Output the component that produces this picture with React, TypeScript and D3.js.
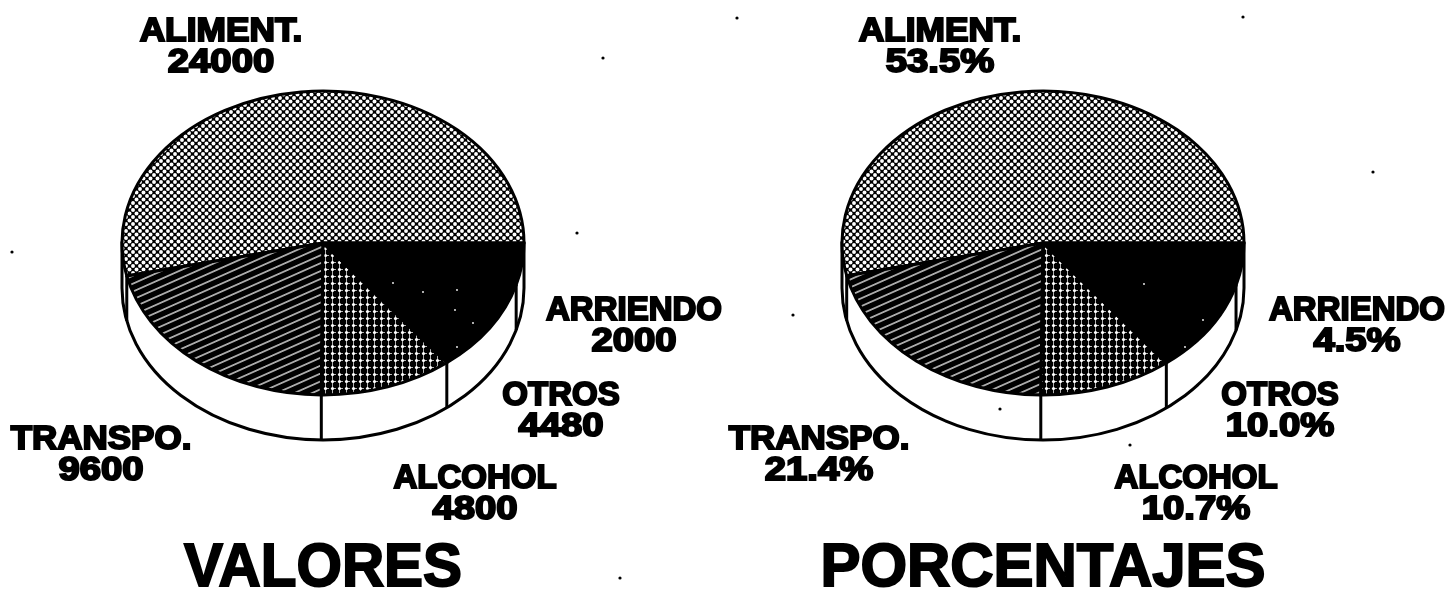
import React from "react";
import * as d3 from "d3";

const categories = ["ALIMENT.", "TRANSPO.", "ALCOHOL", "OTROS", "ARRIENDO"];
const valores = [24000, 9600, 4800, 4480, 2000];
const porcentajes = [53.5, 21.4, 10.7, 10.0, 4.5];
const valorLabels = ["24000", "9600", "4800", "4480", "2000"];
const porcentajeLabels = ["53.5%", "21.4%", "10.7%", "10.0%", "4.5%"];

const patterns = ["url(#dots)", "url(#hatch)", "url(#grid)", "url(#solid)", "url(#solid)"];

// label anchors relative to pie centre: [dx, y of first line]
const leftAnchors = [[-102, 41], [-222, 449], [152, 488], [238, 405], [311, 320]];
const rightAnchors = [[-103, 41], [-224, 449], [153, 488], [237, 405], [314, 320]];
// the names are a little wider in the scan than in Liberation Sans
const nameStretch = [1.07, 1.06, 1, 1, 1];

// dirt from the scan
const specks = [
  [737, 18], [603, 58], [1243, 17], [577, 233], [793, 315], [1373, 172],
  [1130, 445], [1000, 409], [620, 578], [12, 252],
];
const whiteSpecks = [
  [457, 290], [455, 310], [473, 323], [457, 347], [423, 292], [393, 283],
  [1144, 284], [1203, 320], [1185, 347],
];

const W = 1448;
const H = 593;
const RX = 201;
const RY = 152;
const CY = 243;
const DEPTH = 45;
const LINE = 31;
const VALUE_STRETCH = 1.16;

const pie = d3
  .pie<number>()
  .sort(null)
  .startAngle(Math.PI / 2)
  .endAngle(Math.PI / 2 - 2 * Math.PI);

const rim = (cx: number, a: number, dy = 0): [number, number] => [
  cx + RX * Math.sin(a),
  CY + dy - RY * Math.cos(a),
];

const slicePath = (cx: number, a0: number, a1: number) => {
  const [x0, y0] = rim(cx, a0);
  const [x1, y1] = rim(cx, a1);
  const large = Math.abs(a1 - a0) > Math.PI ? 1 : 0;
  return `M${cx},${CY}L${x0},${y0}A${RX},${RY} 0 ${large} 0 ${x1},${y1}Z`;
};

const Pie3D = ({ cx, values, labels, anchors, title, titleW }: any) => {
  const arcs = pie(values);
  const wall =
    `M${cx - RX},${CY}L${cx - RX},${CY + DEPTH}` +
    `A${RX},${RY} 0 0 0 ${cx + RX},${CY + DEPTH}L${cx + RX},${CY}Z`;
  return (
    <g>
      <path d={wall} fill="#fff" stroke="#000" strokeWidth={3} />
      {arcs.map((d, i) => {
        const [x, y] = rim(cx, d.endAngle);
        // only edges on the front half show on the wall
        if (y <= CY + 1) return null;
        return <line key={i} x1={x} y1={y} x2={x} y2={y + DEPTH} stroke="#000" strokeWidth={3} />;
      })}
      {arcs.map((d, i) => (
        <path
          key={i}
          d={slicePath(cx, d.startAngle, d.endAngle)}
          fill={patterns[i]}
          stroke="#000"
          strokeWidth={3}
          strokeLinejoin="round"
        />
      ))}
      <g
        fontFamily="'Liberation Sans', Arial, sans-serif"
        fontWeight="bold"
        fontSize={33}
        fill="#000"
        stroke="#000"
        strokeWidth={2}
        textAnchor="middle"
      >
        {categories.map((c, i) => (
          <g key={c}>
            <text transform={`translate(${cx + anchors[i][0]},${anchors[i][1]}) scale(${nameStretch[i]},1)`}>
              {c}
            </text>
            <text transform={`translate(${cx + anchors[i][0]},${anchors[i][1] + LINE}) scale(${VALUE_STRETCH},1)`}>
              {labels[i]}
            </text>
          </g>
        ))}
      </g>
      <text
        x={cx}
        y={586}
        fontFamily="'Liberation Sans', Arial, sans-serif"
        fontWeight="bold"
        fontSize={62}
        fill="#000"
        stroke="#000"
        strokeWidth={2}
        textAnchor="middle"
        textLength={titleW}
        lengthAdjust="spacingAndGlyphs"
      >
        {title}
      </text>
    </g>
  );
};

const App = () => (
  <svg
    width={W}
    height={H}
    viewBox={`0 0 ${W} ${H}`}
    style={{ position: "absolute", left: 0, top: 0, background: "#fff" }}
  >
    <defs>
      <filter id="scan" x="0" y="0" width="100%" height="100%">
        <feGaussianBlur stdDeviation="0.4" />
      </filter>
      <pattern id="dots" width={7} height={7} patternUnits="userSpaceOnUse">
        <rect width={7} height={7} fill="#000" />
        <circle cx={0} cy={0} r={1.95} fill="#fff" />
        <circle cx={7} cy={0} r={1.95} fill="#fff" />
        <circle cx={0} cy={7} r={1.95} fill="#fff" />
        <circle cx={7} cy={7} r={1.95} fill="#fff" />
        <circle cx={3.5} cy={3.5} r={1.95} fill="#fff" />
      </pattern>
      <pattern
        id="hatch"
        width={20}
        height={7.2}
        patternUnits="userSpaceOnUse"
        patternTransform="rotate(-24)"
      >
        <rect width={20} height={7.2} fill="#000" />
        <rect x={0} y={3} width={20} height={1.2} fill="#fff" />
      </pattern>
      <pattern id="grid" width={7} height={7} patternUnits="userSpaceOnUse">
        <rect width={7} height={7} fill="#000" />
        <circle cx={3.5} cy={3.5} r={1.6} fill="#fff" />
        <line x1={3.5} y1={3.5} x2={7} y2={3.5} stroke="#fff" strokeWidth={0.7} />
        <line x1={3.5} y1={0} x2={3.5} y2={7} stroke="#fff" strokeWidth={0.7} />
      </pattern>
      <pattern id="solid" width={8} height={8} patternUnits="userSpaceOnUse">
        <rect width={8} height={8} fill="#000" />
      </pattern>
    </defs>
    <g filter="url(#scan)">
      <Pie3D cx={323} values={valores} labels={valorLabels} anchors={leftAnchors} title="VALORES" titleW={278} />
      <Pie3D
        cx={1043}
        values={porcentajes}
        labels={porcentajeLabels}
        anchors={rightAnchors}
        title="PORCENTAJES"
        titleW={445}
      />
      {specks.map(([x, y], i) => (
        <circle key={i} cx={x} cy={y} r={1.6} fill="#000" />
      ))}
      {whiteSpecks.map(([x, y], i) => (
        <circle key={i} cx={x} cy={y} r={0.9} fill="#fff" />
      ))}
    </g>
  </svg>
);

export default App;
